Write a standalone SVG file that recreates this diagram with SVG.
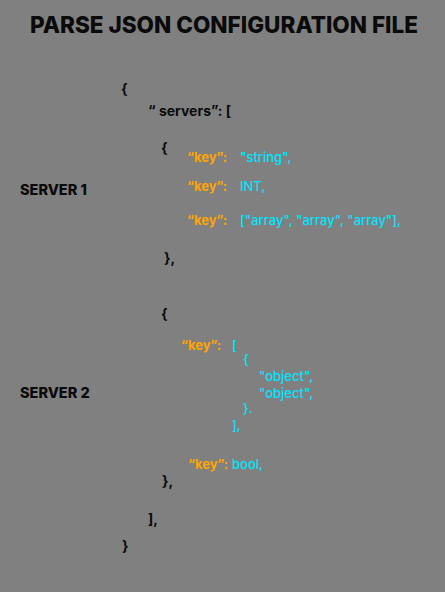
<svg xmlns="http://www.w3.org/2000/svg" width="445" height="592" viewBox="0 0 445 592">
<style>
text{font-family:Inter,"Liberation Sans",Arial,sans-serif}
.t{font-size:23.5px;font-weight:800;fill:#0a0a0a}
.lbl{font-size:14.5px;font-weight:800;fill:#0a0a0a}
.b{font-size:14px;font-weight:700;fill:#0a0a0a}
.k{font-size:13px;font-weight:700;fill:#FFA500}
.v{font-size:13px;font-weight:500;fill:#00E5FF}
</style>
<rect width="445" height="592" fill="#808080"/>
<g id="title"><text class="t" x="224" y="33" text-anchor="middle" textLength="388" lengthAdjust="spacingAndGlyphs">PARSE JSON CONFIGURATION FILE</text></g>
<g id="server1-label"><text class="lbl" x="20" y="195">SERVER 1</text></g>
<g id="server2-label"><text class="lbl" x="20" y="398">SERVER 2</text></g>
<g id="json">
<text class="b" x="121" y="94">{</text>
<text class="b" x="148" y="116">“ servers”: [</text>
<g id="server1">
<text class="b" x="161" y="153">{</text>
<text class="k" x="187" y="162">“key”:</text><text class="v" x="240" y="162">"string",</text>
<text class="k" x="187" y="191">“key”:</text><text class="v" x="240" y="191">INT,</text>
<text class="k" x="187" y="225">“key”:</text><text class="v" x="240" y="225">["array", "array", "array"],</text>
<text class="b" x="164" y="263">},</text>
</g>
<g id="server2">
<text class="b" x="161" y="319">{</text>
<text class="k" x="181" y="350">“key”:</text><text class="v" x="232" y="350">[</text>
<text class="v" x="243" y="364">{</text>
<text class="v" x="259" y="381">"object",</text>
<text class="v" x="259" y="398">"object",</text>
<text class="v" x="243" y="413">}.</text>
<text class="v" x="232" y="430">],</text>
<text class="k" x="188" y="469">“key”:</text><text class="v" x="232" y="469">bool,</text>
<text class="b" x="162" y="486">},</text>
</g>
<text class="b" x="148" y="524">],</text>
<text class="b" x="122" y="551">}</text>
</g>
<g id="connectors"/>
</svg>
